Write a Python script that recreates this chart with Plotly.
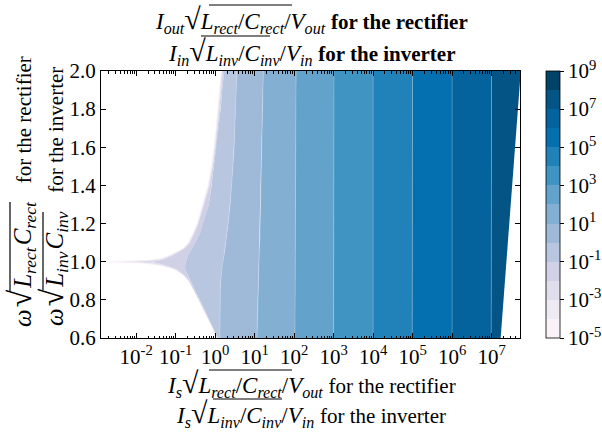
import plotly.graph_objects as go

# ---------------- data ----------------
# normalized frequency grid used for the curved contour boundaries
y_grid = [0.60, 0.65, 0.70, 0.75, 0.80, 0.85, 0.90, 0.93, 0.96, 0.98, 0.99, 1.00, 1.01,
          1.02, 1.04, 1.07, 1.10, 1.15, 1.20, 1.30, 1.40, 1.50, 1.60, 1.70, 1.80, 1.90, 2.00]
# log10 of the x position where the output reaches each contour level
lvl_m5 = [0.03, -0.08, -0.19, -0.31, -0.44, -0.57, -0.69, -0.82, -1.06, -1.42, -1.85, -3.0, -1.65,
          -1.36, -1.10, -0.82, -0.69, -0.57, -0.48, -0.33, -0.19, -0.11, -0.04, 0.01, 0.06, 0.10, 0.14]
lvl_m4 = [0.04, -0.07, -0.18, -0.30, -0.43, -0.56, -0.68, -0.81, -1.04, -1.38, -1.72, -2.5, -1.55,
          -1.32, -1.08, -0.80, -0.675, -0.555, -0.465, -0.315, -0.175, -0.095, -0.025, 0.025, 0.075, 0.115, 0.155]
lvl_m3 = [0.05, -0.06, -0.17, -0.29, -0.42, -0.55, -0.67, -0.80, -1.01, -1.32, -1.58, -2.1, -1.45,
          -1.27, -1.05, -0.785, -0.66, -0.54, -0.45, -0.30, -0.16, -0.08, -0.01, 0.04, 0.09, 0.13, 0.17]
lvl_m2 = [0.055, -0.055, -0.165, -0.285, -0.415, -0.545, -0.665, -0.79, -0.98, -1.24, -1.40, -1.6, -1.32,
          -1.20, -1.01, -0.77, -0.64, -0.52, -0.43, -0.28, -0.14, -0.06, 0.01, 0.06, 0.11, 0.15, 0.19]
lvl_m1 = [0.07, -0.04, -0.15, -0.27, -0.39, -0.51, -0.63, -0.70, -0.76, -0.76, -0.75, -0.74, -0.72,
          -0.71, -0.67, -0.60, -0.51, -0.38, -0.30, -0.16, -0.09, -0.03, 0.03, 0.09, 0.14, 0.18, 0.23]
lvl_0 = [0.12, 0.12, 0.12, 0.12, 0.13, 0.13, 0.14, 0.15, 0.17, 0.18, 0.19, 0.20, 0.21,
         0.22, 0.23, 0.25, 0.27, 0.30, 0.33, 0.38, 0.42, 0.45, 0.48, 0.50, 0.52, 0.54, 0.55]
lvl_1 = [1.06, 1.065, 1.07, 1.075, 1.08, 1.09, 1.10, 1.10, 1.11, 1.11, 1.11, 1.11, 1.115,
         1.115, 1.12, 1.12, 1.13, 1.13, 1.14, 1.15, 1.16, 1.17, 1.18, 1.19, 1.20, 1.21, 1.22]
# nearly straight boundaries, given at the bottom and top of the y range
y_ends = [0.60, 2.00]
lvl_2 = [2.02, 2.05]
lvl_3 = [3.00, 3.01]
lvl_4 = [4.00, 4.00]
lvl_5 = [4.99, 5.00]
lvl_6 = [6.00, 6.00]
lvl_7 = [6.99, 7.00]
valid_edge = [7.23, 7.74]     # right limit of the filled (valid) region

level_exponents = list(range(-5, 10))          # contour levels 10^-5 ... 10^9
x_tick_exponents = list(range(-2, 8))
cbar_tick_exponents = [-5, -3, -1, 1, 3, 5, 7, 9]
y_ticks = [0.6, 0.8, 1.0, 1.2, 1.4, 1.6, 1.8, 2.0]

# PuBu colours of the 14 bands (lowest to highest)
band_colors = ['rgb(250,242,248)', 'rgb(239,233,243)', 'rgb(224,222,237)', 'rgb(208,209,230)',
               'rgb(184,198,224)', 'rgb(159,186,217)', 'rgb(130,175,210)', 'rgb(98,162,203)',
               'rgb(63,148,194)', 'rgb(33,130,185)', 'rgb(5,112,176)', 'rgb(4,99,156)',
               'rgb(4,85,133)', 'rgb(3,66,103)']

boundaries = [(y_grid, lvl_m5), (y_grid, lvl_m4), (y_grid, lvl_m3), (y_grid, lvl_m2),
              (y_grid, lvl_m1), (y_grid, lvl_0), (y_grid, lvl_1),
              (y_ends, lvl_2), (y_ends, lvl_3), (y_ends, lvl_4), (y_ends, lvl_5),
              (y_ends, lvl_6), (y_ends, lvl_7), (y_ends, valid_edge)]

FONT = "Liberation Serif"
FS = 21      # plain text size
MS = 23      # math text size (titles)
MSY = 25     # math text size (y label)

fig = go.Figure()
for i in range(len(boundaries) - 1):
    yl, xl = boundaries[i]
    yr, xr = boundaries[i + 1]
    xs = [10 ** v for v in xl] + [10 ** v for v in reversed(xr)]
    ys = list(yl) + list(reversed(yr))
    fig.add_trace(go.Scatter(x=xs, y=ys, mode="lines", fill="toself",
                             fillcolor=band_colors[i], line=dict(width=0, color=band_colors[i]),
                             hoverinfo="skip", showlegend=False))

# faint seams between neighbouring filled bands (as matplotlib's contourf shows)
for yb, xb in boundaries[5:13]:
    fig.add_trace(go.Scatter(x=[10 ** v for v in xb], y=yb, mode="lines",
                             line=dict(width=0.8, color="rgba(255,255,255,0.28)"),
                             hoverinfo="skip", showlegend=False))

n = len(band_colors)
cscale = []
for i, c in enumerate(band_colors):
    cscale.append([i / n, c])
    cscale.append([(i + 1) / n, c])

fig.add_trace(go.Scatter(
    x=[1e3], y=[1.0], mode="markers", hoverinfo="skip", showlegend=False,
    marker=dict(size=1, opacity=0, color=[0], cmin=level_exponents[0], cmax=level_exponents[-1],
                colorscale=cscale, showscale=True,
                colorbar=dict(x=(546 - 101) / 419, xanchor="left", xref="paper", xpad=0, ypad=0,
                              y=0.5, yanchor="middle", len=1, lenmode="fraction",
                              thickness=14, outlinewidth=0.8, outlinecolor="black",
                              tickvals=cbar_tick_exponents,
                              ticktext=["10<sup>%d</sup>" % e for e in cbar_tick_exponents],
                              ticks="outside", ticklen=4, tickcolor="black",
                              tickfont=dict(family=FONT, size=FS, color="black")))))

minor_vals = [m * 10 ** e for e in range(-3, 8) for m in range(2, 10)]

fig.update_xaxes(type="log", range=[-2.89, 7.72],
                 tickvals=[10 ** e for e in x_tick_exponents],
                 ticktext=["10<sup>%d</sup>" % e for e in x_tick_exponents],
                 ticks="inside", ticklen=5, tickcolor="black",
                 minor=dict(tickvals=minor_vals, ticks="inside", ticklen=2.5, tickcolor="black"),
                 showline=True, linecolor="black", linewidth=1, mirror="ticks",
                 showgrid=False, zeroline=False,
                 tickfont=dict(family=FONT, size=FS, color="black"))
fig.update_yaxes(range=[0.6, 2.0], tickvals=y_ticks, ticktext=["%.1f" % v for v in y_ticks],
                 ticks="inside", ticklen=5, tickcolor="black",
                 showline=True, linecolor="black", linewidth=1, mirror="ticks",
                 showgrid=False, zeroline=False,
                 tickfont=dict(family=FONT, size=FS, color="black"))


def it(s):
    return "<i>%s</i>" % s


def sym(letter, sub):
    return it(letter) + "<sub>" + it(sub) + "</sub>"


def plain(s, bold=False):
    s = "<b>%s</b>" % s if bold else s
    return "<span style='font-size:%dpx'>%s</span>" % (FS, s)


RAD = "<span style='font-size:30px'>√</span>"
RADY = "<span style='font-size:32px'>√</span>"
SP = "<span style='font-size:8px'> </span>"

title1 = sym("I", "out") + RAD + sym("L", "rect") + "/" + sym("C", "rect") + "/" + sym("V", "out") + " " + plain("for the rectifier", True)
title2 = sym("I", "in") + RAD + sym("L", "inv") + "/" + sym("C", "inv") + "/" + sym("V", "in") + " " + plain("for the inverter", True)
xlab1 = sym("I", "s") + RAD + sym("L", "rect") + "/" + sym("C", "rect") + "/" + sym("V", "out") + " " + plain("for the rectifier")
xlab2 = sym("I", "s") + RAD + sym("L", "inv") + "/" + sym("C", "inv") + "/" + sym("V", "in") + " " + plain("for the inverter")
ylab1 = it("ω") + SP + RADY + SP + sym("L", "rect") + SP + sym("C", "rect") + "   " + plain("for the rectifier")
ylab2 = it("ω") + SP + RADY + SP + sym("L", "inv") + SP + sym("C", "inv") + "   " + plain("for the inverter")

W, H, X0, Y0 = 419, 267, 101, 338


def px(x):
    return (x - X0) / W


def py(y):
    return (Y0 - y) / H


ann = []
for txt, xc, yc, ang, size in [(title1, 311, 20, 0, MS), (title2, 312, 51, 0, MS),
                               (xlab1, 311, 383, 0, MS), (xlab2, 311, 413, 0, MS),
                               (ylab1, 21, 192, -90, MSY), (ylab2, 53, 197, -90, MSY)]:
    ann.append(dict(text=txt, x=px(xc), y=py(yc), xref="paper", yref="paper",
                    xanchor="center", yanchor="middle", showarrow=False, textangle=ang,
                    font=dict(family=FONT, size=size, color="black")))

# vincula (overbars) of the square roots: horizontal (x0, x1, y) and vertical (x, y0, y1), pixels
vincula_h = [(209, 292, 5), (201, 270, 36), (209, 292, 370), (213, 282, 399)]
vincula_v = [(10, 292, 202), (43, 290, 212)]
shapes = [dict(type="line", xref="paper", yref="paper", x0=px(a), x1=px(b), y0=py(c), y1=py(c),
               line=dict(color="black", width=1.2)) for a, b, c in vincula_h]
shapes += [dict(type="line", xref="paper", yref="paper", x0=px(a), x1=px(a), y0=py(b), y1=py(c),
                line=dict(color="black", width=1.2)) for a, b, c in vincula_v]

fig.update_layout(width=602, height=432,
                  margin=dict(l=101, r=82, t=71, b=94, pad=0, autoexpand=False),
                  paper_bgcolor="white", plot_bgcolor="white", annotations=ann, shapes=shapes,
                  showlegend=False, font=dict(family=FONT, size=FS, color="black"))

fig.write_html("out.html", post_script="document.body.style.margin='0px';",
               config={"displayModeBar": False})
